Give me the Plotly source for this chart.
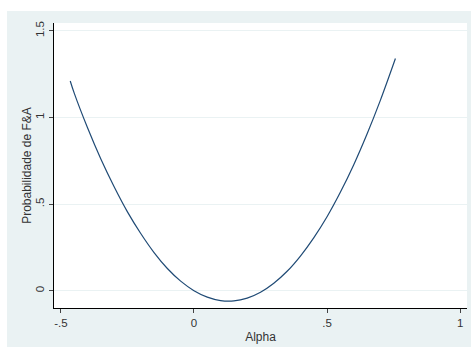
import plotly.graph_objects as go

# Values
alpha = [-0.465, -0.45, -0.40, -0.35, -0.30, -0.25, -0.20, -0.15, -0.10, -0.05,
         0.00, 0.05, 0.10, 0.15, 0.20, 0.25, 0.30, 0.35, 0.40, 0.45,
         0.50, 0.55, 0.60, 0.65, 0.70, 0.757]
prob = [1.21, 1.14, 0.94, 0.76, 0.60, 0.455, 0.33, 0.22, 0.128, 0.055,
        0.000, -0.037, -0.057, -0.059, -0.043, -0.009, 0.043, 0.112, 0.200, 0.305,
        0.427, 0.568, 0.726, 0.903, 1.097, 1.34]

x_ticks = [-0.5, 0, 0.5, 1]
x_tick_labels = ["-.5", "0", ".5", "1"]
y_ticks = [0, 0.5, 1, 1.5]
y_tick_labels = ["0", ".5", "1", "1.5"]

BG = "#EAF2F3"
FONT = "Liberation Sans, Arial, sans-serif"
W, H = 471, 347
L, R, T, B = 54, 4, 23, 39

fig = go.Figure()
fig.add_trace(go.Scatter(x=alpha, y=prob, mode="lines", line_shape="spline",
                         line=dict(color="#1f4a75", width=1.2), showlegend=False))

fig.update_layout(
    width=W, height=H,
    margin=dict(l=L, r=R, t=T, b=B, pad=0),
    paper_bgcolor=BG, plot_bgcolor="white",
    font=dict(family=FONT, size=12, color="#000000"),
    xaxis=dict(range=[-0.526, 1.026], tickvals=x_ticks, ticktext=x_tick_labels,
               showgrid=False, zeroline=False, showline=True, linecolor="#000000",
               linewidth=1, ticks="outside", ticklen=4, tickcolor="#444444",
               tickfont=dict(size=11.5, color="#333333"),
               title=dict(text="Alpha", font=dict(size=12, color="#333333"), standoff=4)),
    yaxis=dict(range=[-0.1, 1.545], tickvals=y_ticks, ticktext=y_tick_labels,
               showgrid=True, gridcolor=BG, gridwidth=1, zeroline=False,
               showline=True, linecolor="#000000", linewidth=1,
               ticks="outside", ticklen=4, tickcolor="#444444", tickangle=-90,
               tickfont=dict(size=11.5, color="#333333"),
               title=dict(text="Probabilidade de F&A", font=dict(size=12, color="#333333"), standoff=0)),
    shapes=[
        dict(type="rect", xref="paper", yref="paper", layer="below",
             x0=-L / 413 - 0.01, x1=1 + R / 413 + 0.01, y0=1 + 12 / 285, y1=1 + T / 285 + 0.01,
             fillcolor="white", line=dict(width=0)),
        dict(type="rect", xref="paper", yref="paper", layer="below",
             x0=-L / 413 - 0.01, x1=-(L - 7) / 413, y0=-B / 285 - 0.01, y1=1 + T / 285 + 0.01,
             fillcolor="white", line=dict(width=0)),
    ],
)

fig.write_html("out.html", config={"displayModeBar": False},
               post_script="document.body.style.margin='0';document.body.style.overflow='hidden';")
